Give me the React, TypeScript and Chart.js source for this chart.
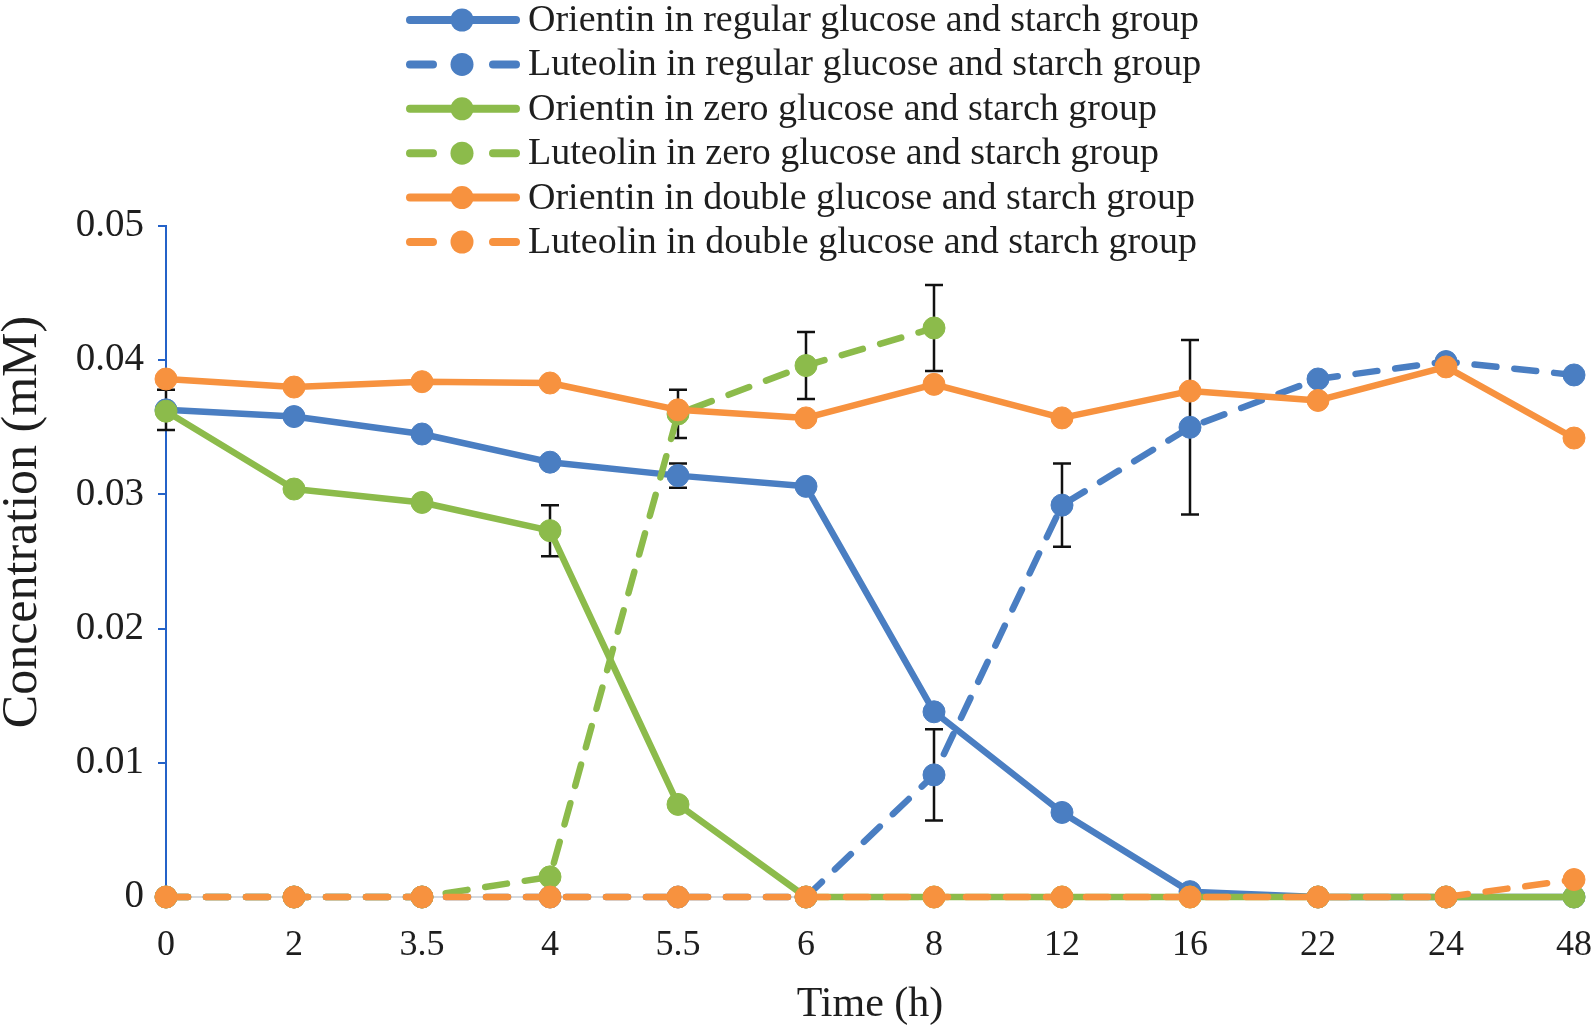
import React, { useEffect, useRef } from "react";
import { Chart, registerables } from "chart.js";

Chart.register(...registerables);

// ---------- data ----------
const timeLabels = ["0", "2", "3.5", "4", "5.5", "6", "8", "12", "16", "22", "24", "48"];

const orientinRegular = [0.0363, 0.0358, 0.0345, 0.0324, 0.0314, 0.0306, 0.0138, 0.0063, 0.0004, 0, 0, 0];
const orientinRegularErr = [0.0015, null, null, null, 0.0009, null, null, null, null, null, null, null];

const luteolinRegular = [0, 0, 0, 0, 0, 0, 0.0091, 0.0292, 0.035, 0.0386, 0.0399, 0.0389];
const luteolinRegularErr = [null, null, null, null, null, null, 0.0034, 0.0031, 0.0065, null, null, null];

const orientinZero = [0.0362, 0.0304, 0.0294, 0.0273, 0.0069, 0, 0, 0, 0, 0, 0, 0];
const orientinZeroErr = [null, null, null, 0.0019, null, null, null, null, null, null, null, null];

const luteolinZero = [0, 0, 0, 0.0015, 0.036, 0.0396, 0.0424, null, null, null, null, null];
const luteolinZeroErr = [null, null, null, null, 0.0018, 0.0025, 0.0032, null, null, null, null, null];

const orientinDouble = [0.0386, 0.038, 0.0384, 0.0383, 0.0363, 0.0357, 0.0382, 0.0357, 0.0377, 0.037, 0.0395, 0.0342];
const orientinDoubleErr = [null, null, null, null, null, null, null, null, null, null, null, null];

const luteolinDouble = [0, 0, 0, 0, 0, 0, 0, 0, 0, 0, 0, 0.0013];
const luteolinDoubleErr = [null, null, null, null, null, null, null, null, null, null, null, null];

const seriesNames = [
  "Orientin in regular glucose and starch group",
  "Luteolin in regular glucose and starch group",
  "Orientin in zero glucose and starch group",
  "Luteolin in zero glucose and starch group",
  "Orientin in double glucose and starch group",
  "Luteolin in double glucose and starch group",
];

const yTickValues = [0, 0.01, 0.02, 0.03, 0.04, 0.05];

// ---------- styles ----------
const BLUE = "#4A7EC2";
const GREEN = "#8CBB4B";
const ORANGE = "#F7923F";
const AXIS_BLUE = "#2462C8";
const FONT = "'Liberation Serif', 'Times New Roman', serif";
const TEXT = "#1e1e1e";
const DASH = [22, 18];

const seriesData = [orientinRegular, luteolinRegular, orientinZero, luteolinZero, orientinDouble, luteolinDouble];
const seriesErr = [orientinRegularErr, luteolinRegularErr, orientinZeroErr, luteolinZeroErr, orientinDoubleErr, luteolinDoubleErr];
const seriesColor = [BLUE, BLUE, GREEN, GREEN, ORANGE, ORANGE];
const seriesDashed = [false, true, false, true, false, true];

const errorBarPlugin = {
  id: "errorBars",
  beforeDatasetsDraw(chart: any) {
    const { ctx } = chart;
    const xs = chart.scales.x;
    const ys = chart.scales.y;
    ctx.save();
    ctx.strokeStyle = "#111";
    ctx.lineWidth = 2.5;
    chart.data.datasets.forEach((ds: any) => {
      const errs = ds.errorBars || [];
      ds.data.forEach((v: any, j: number) => {
        const e = errs[j];
        if (v == null || e == null) return;
        const x = xs.getPixelForValue(j);
        const yt = ys.getPixelForValue(v + e);
        const yb = ys.getPixelForValue(v - e);
        ctx.beginPath();
        ctx.moveTo(x, yt);
        ctx.lineTo(x, yb);
        ctx.moveTo(x - 9, yt);
        ctx.lineTo(x + 9, yt);
        ctx.moveTo(x - 9, yb);
        ctx.lineTo(x + 9, yb);
        ctx.stroke();
      });
    });
    ctx.restore();
  },
};

const customLegendPlugin = {
  id: "customLegend",
  afterDraw(chart: any) {
    const { ctx } = chart;
    const x0 = 406;
    const x1 = 520;
    const mx = 462;
    ctx.save();
    chart.data.datasets.forEach((ds: any, i: number) => {
      const y = 20 + i * 44.4;
      ctx.strokeStyle = ds.borderColor;
      ctx.fillStyle = ds.borderColor;
      ctx.lineWidth = 8;
      ctx.lineCap = "round";
      ctx.beginPath();
      if (ds.borderDash && ds.borderDash.length) {
        ctx.moveTo(x0 + 4, y);
        ctx.lineTo(x0 + 27, y);
        ctx.moveTo(x1 - 27, y);
        ctx.lineTo(x1 - 4, y);
      } else {
        ctx.moveTo(x0 + 4, y);
        ctx.lineTo(x1 - 4, y);
      }
      ctx.stroke();
      ctx.beginPath();
      ctx.arc(mx, y, 11.5, 0, Math.PI * 2);
      ctx.fill();
      ctx.fillStyle = TEXT;
      ctx.font = `38px ${FONT}`;
      ctx.textBaseline = "middle";
      ctx.textAlign = "left";
      ctx.fillText(ds.label, 528, y + 1);
    });
    ctx.restore();
  },
};

const yTitlePlugin = {
  id: "yTitle",
  afterDraw(chart: any) {
    const { ctx } = chart;
    ctx.save();
    ctx.translate(23, 522);
    ctx.rotate(-Math.PI / 2);
    ctx.fillStyle = TEXT;
    ctx.font = `50px ${FONT}`;
    ctx.textAlign = "center";
    ctx.textBaseline = "middle";
    ctx.fillText("Concentration (mM)", 0, 0);
    ctx.restore();
  },
};

export default function App() {
  const canvasRef = useRef<HTMLCanvasElement | null>(null);

  useEffect(() => {
    document.body.style.margin = "0";
    document.body.style.overflow = "hidden";
    const canvas = canvasRef.current;
    if (!canvas) return;

    const datasets = seriesNames.map((name, i) => ({
      label: name,
      data: seriesData[i],
      errorBars: seriesErr[i],
      borderColor: seriesColor[i],
      backgroundColor: seriesColor[i],
      pointBackgroundColor: seriesColor[i],
      pointBorderColor: seriesColor[i],
      pointRadius: 11,
      pointBorderWidth: 1,
      borderWidth: 6.5,
      borderDash: seriesDashed[i] ? DASH : [],
      borderCapStyle: seriesDashed[i] ? "round" : "butt",
      borderJoinStyle: "round",
      tension: 0,
      spanGaps: false,
      clip: false,
      order: 6 - i,
    }));

    const chart = new Chart(canvas, {
      type: "line",
      data: { labels: timeLabels, datasets: datasets as any },
      options: {
        animation: false,
        responsive: false,
        maintainAspectRatio: false,
        layout: { padding: { top: 226, right: 21, left: 0, bottom: 0 } },
        plugins: {
          legend: { display: false },
          tooltip: { enabled: false },
        },
        scales: {
          x: {
            type: "category",
            offset: false,
            grid: {
              drawOnChartArea: false,
              drawTicks: true,
              tickLength: 27,
              color: "rgba(0,0,0,0)",
            },
            border: { color: "#D5D9DE", width: 2 },
            ticks: {
              font: { family: FONT, size: 36 },
              color: TEXT,
              padding: 0,
              maxRotation: 0,
              autoSkip: false,
            },
            title: {
              display: true,
              text: "Time (h)",
              font: { family: FONT, size: 42, lineHeight: 1.2 },
              color: TEXT,
              padding: 0,
            },
            afterFit: (s: any) => {
              s.height = 133;
            },
          },
          y: {
            min: 0,
            max: 0.05,
            afterBuildTicks: (s: any) => {
              s.ticks = yTickValues.map((v) => ({ value: v }));
            },
            ticks: {
              font: { family: FONT, size: 39 },
              color: TEXT,
              padding: 14,
              callback: (v: any) => (Number(v) === 0 ? "0" : Number(v).toFixed(2)),
            },
            grid: {
              drawOnChartArea: false,
              drawTicks: true,
              tickLength: 8,
              color: AXIS_BLUE,
              lineWidth: 2,
            },
            border: { color: AXIS_BLUE, width: 2 },
            afterFit: (s: any) => {
              s.width = 166;
            },
          },
        },
      },
      plugins: [errorBarPlugin, customLegendPlugin, yTitlePlugin],
    });

    return () => chart.destroy();
  }, []);

  return (
    <div style={{ width: 1595, height: 1030, background: "#fff" }}>
      <canvas ref={canvasRef} width={1595} height={1030} style={{ display: "block" }} />
    </div>
  );
}
